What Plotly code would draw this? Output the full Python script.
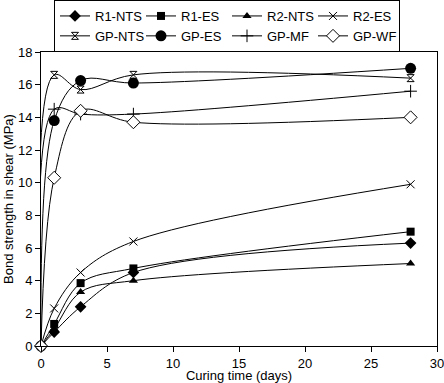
import plotly.graph_objects as go

days = [0, 1, 3, 7, 28]
series_names = ["R1-NTS", "R1-ES", "R2-NTS", "R2-ES", "GP-NTS", "GP-ES", "GP-MF", "GP-WF"]
r1_nts = [0, 0.85, 2.4, 4.5, 6.3]
r1_es = [0, 1.35, 3.85, 4.75, 7.0]
r2_nts = [0, 1.05, 3.3, 4.0, 5.05]
r2_es = [0, 2.3, 4.5, 6.4, 9.9]
gp_nts = [0, 16.6, 15.7, 16.6, 16.4]
gp_es = [0, 13.8, 16.25, 16.1, 17.0]
gp_mf = [0, 14.5, 14.2, 14.2, 15.6]
gp_wf = [0, 10.3, 14.4, 13.7, 14.0]
values = [r1_nts, r1_es, r2_nts, r2_es, gp_nts, gp_es, gp_mf, gp_wf]
x_title = "Curing time (days)"
y_title = "Bond strength in shear (MPa)"

styles = [
    dict(symbol="diamond", size=9, color="black"),
    dict(symbol="square", size=8, color="black"),
    dict(symbol="triangle-up", size=8, color="black"),
    dict(symbol="x-thin", size=8, color="black", line=dict(width=1, color="black")),
    dict(symbol="hourglass-open", size=7, color="black", line=dict(width=1, color="black")),
    dict(symbol="circle", size=11, color="black"),
    dict(symbol="cross-thin", size=9, color="black", line=dict(width=1, color="black")),
    dict(symbol="diamond", size=10, color="white", line=dict(width=1, color="black")),
]

fig = go.Figure()
for name, vals, st in zip(series_names, values, styles):
    fig.add_trace(go.Scatter(
        x=days, y=vals, name=name, mode="lines+markers",
        line=dict(color="black", width=1, shape="spline", smoothing=1),
        marker=st, cliponaxis=False,
    ))

fam = "Liberation Sans, Arial, sans-serif"
font = dict(family=fam, size=13, color="black")
fig.update_layout(
    width=444, height=383,
    margin=dict(l=41, r=7, t=52, b=37, autoexpand=False),
    paper_bgcolor="white", plot_bgcolor="white",
    font=font,
    legend=dict(
        orientation="h", x=54 / 444, xanchor="left", xref="container",
        y=1.0, yanchor="top", yref="container",
        entrywidth=41, entrywidthmode="pixels",
        bordercolor="black", borderwidth=1, bgcolor="white",
        font=dict(family=fam, size=13, color="black"),
        tracegroupgap=0, itemwidth=30,
    ),
    showlegend=True,
)
fig.update_xaxes(
    range=[0, 30], dtick=5, tick0=0, showgrid=False, zeroline=False,
    showline=True, linecolor="black", linewidth=1, mirror=True,
    ticks="outside", ticklen=5, tickcolor="black",
    tickfont=font, ticklabeloverflow="allow",
    title=dict(text=x_title, standoff=0, font=font),
)
fig.update_yaxes(
    range=[0, 18], dtick=2, tick0=0, showgrid=False, zeroline=False,
    showline=True, linecolor="black", linewidth=1, mirror=True,
    ticks="outside", ticklen=5, tickcolor="black",
    tickfont=font,
    title=dict(text=y_title, standoff=1, font=font),
)
fig.write_html(
    "out.html",
    config={"displayModeBar": False},
    post_script="document.body.style.margin='0';document.body.style.overflow='hidden';",
)
